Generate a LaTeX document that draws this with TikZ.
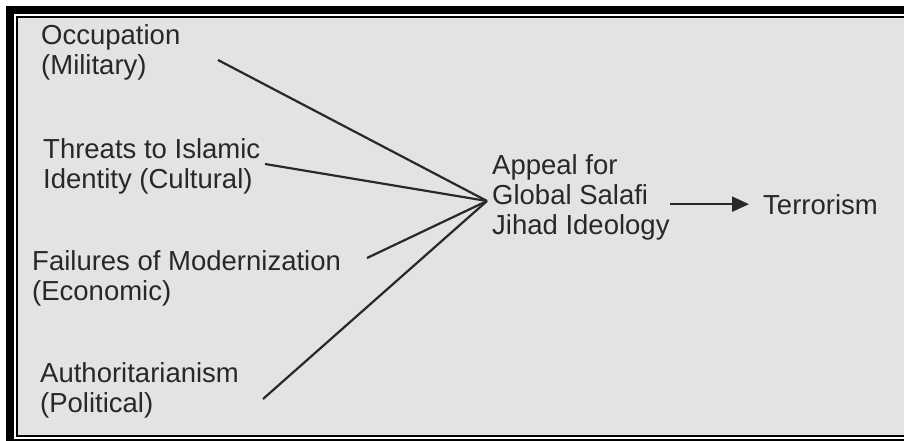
\documentclass[tikz,border=0pt]{standalone}
\usepackage{fontspec}
\setmainfont{Liberation Sans}
\usepackage{tikz}
\usetikzlibrary{arrows.meta,positioning}
\definecolor{panel}{RGB}{227,227,227}
\definecolor{ink}{RGB}{40,40,40}

\begin{document}
\begin{tikzpicture}[
  x=1pt, y=-1pt,
  lbl/.style={inner sep=0pt, align=left, anchor=base west, text=ink,
              font=\fontsize{27.5}{30}\selectfont},
  link/.style={line width=2.2pt, draw=ink},
  arr/.style={-{Triangle[length=17pt, width=15pt]}, line width=2.2pt, ink},
]
\useasboundingbox (0,0) rectangle (904,441);
% Frame
\fill[white] (0,0) rectangle (904,441);
\fill[black] (6,6) rectangle (904,441);
\fill[white] (14,14) rectangle (904,439);
\fill[black] (16,16) rectangle (904,437);
\fill[panel] (18,18) rectangle (904,435);
% Nodes (anchored on the last baseline)
\node[lbl] (occ)    at (41,75)   {Occupation\\(Military)};
\node[lbl] (thr)    at (43,188)  {Threats to Islamic\\Identity (Cultural)};
\node[lbl] (fail)   at (32,300)  {Failures of Modernization\\(Economic)};
\node[lbl] (auth)   at (40,412)  {Authoritarianism\\(Political)};
\node[lbl] (appeal) at (492,234) {Appeal for\\Global Salafi\\Jihad Ideology};
\node[lbl] (terr)   at (763,214) {Terrorism};
% Line ends
\coordinate (hub)       at (487,201);
\coordinate (occ-tail)  at (218,60);
\coordinate (thr-tail)  at (265,164);
\coordinate (fail-tail) at (367,258);
\coordinate (auth-tail) at (263,399);
% Arrows
\draw[link] (occ-tail)  -- (hub);
\draw[link] (thr-tail)  -- (hub);
\draw[link] (fail-tail) -- (hub);
\draw[link] (auth-tail) -- (hub);
\draw[arr, shorten >=14pt] (appeal.east |- terr.west) -- (terr.west);
\end{tikzpicture}
\end{document}
